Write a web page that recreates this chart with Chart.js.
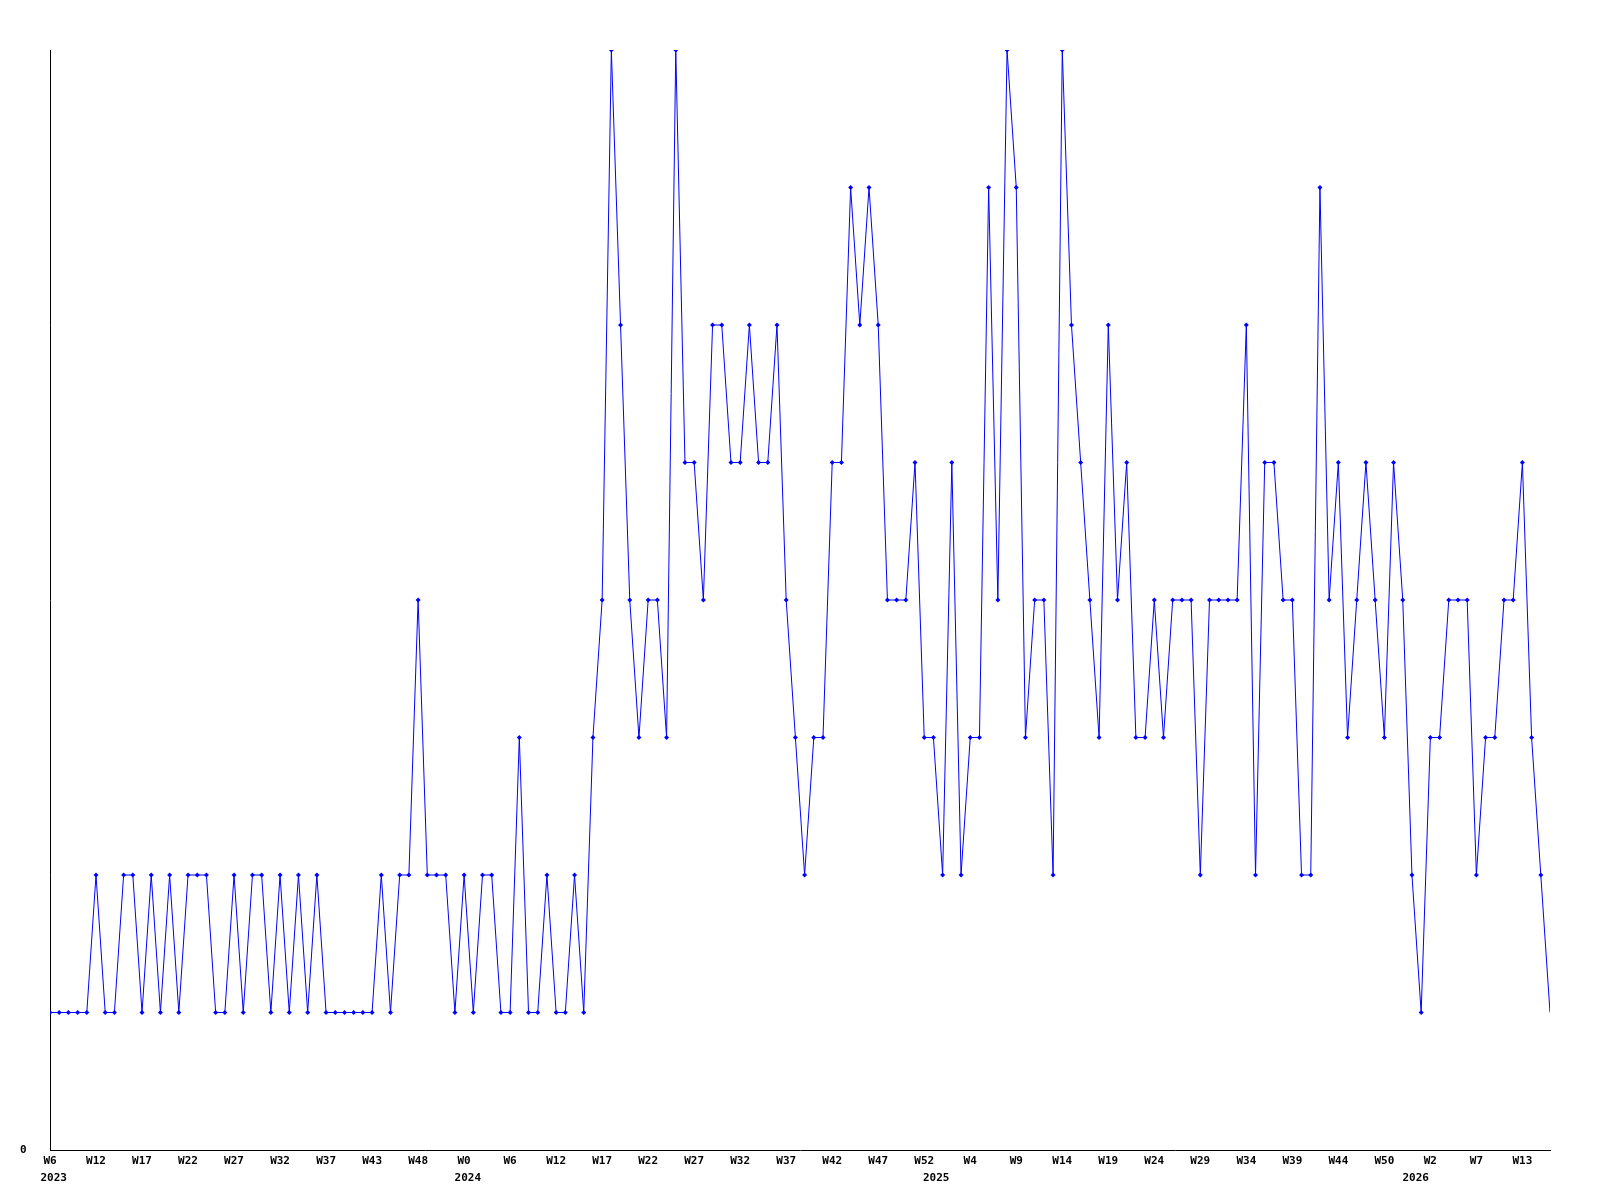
<!DOCTYPE html>
<html>
<head>
<meta charset="utf-8">
<script src="https://cdn.jsdelivr.net/npm/chart.js@4"></script>
<style>
  body { margin: 0; background: #fff; }
  #wrap { width: 1600px; height: 1200px; }
</style>
</head>
<body>
<div id="wrap"><canvas id="lineChart"></canvas></div>
<script>
// weekly values, W6 2023 .. W17 2026
const values = [
  1, 1, 1, 1, 1, 2, 1, 1, 2, 2, 1, 2, 1, 2, 1, 2, 2, 2, 1, 1,
  2, 1, 2, 2, 1, 2, 1, 2, 1, 2, 1, 1, 1, 1, 1, 1, 2, 1, 2, 2,
  4, 2, 2, 2, 1, 2, 1, 2, 2, 1, 1, 3, 1, 1, 2, 1, 1, 2, 1, 3,
  4, 8, 6, 4, 3, 4, 4, 3, 8, 5, 5, 4, 6, 6, 5, 5, 6, 5, 5, 6,
  4, 3, 2, 3, 3, 5, 5, 7, 6, 7, 6, 4, 4, 4, 5, 3, 3, 2, 5, 2,
  3, 3, 7, 4, 8, 7, 3, 4, 4, 2, 8, 6, 5, 4, 3, 6, 4, 5, 3, 3,
  4, 3, 4, 4, 4, 2, 4, 4, 4, 4, 6, 2, 5, 5, 4, 4, 2, 2, 7, 4,
  5, 3, 4, 5, 4, 3, 5, 4, 2, 1, 3, 3, 4, 4, 4, 2, 3, 3, 4, 4,
  5, 3, 2, 1
];

// tick labels (one every 5 points)
const weekLabels = [
  "W6", "W12", "W17", "W22", "W27", "W32", "W37", "W43", "W48",
  "W0", "W6", "W12", "W17", "W22", "W27", "W32", "W37", "W42", "W47", "W52",
  "W4", "W9", "W14", "W19", "W24", "W29", "W34", "W39", "W44", "W50",
  "W2", "W7", "W13"
];
const weekTicks = weekLabels.map((l, i) => i * 5);

const yearLabels = ["2023", "2024", "2025", "2026"];
const yearTicks = [0.4, 45.4, 96.3, 148.4];

const labelFont = { family: "DejaVu Sans Mono", size: 11, weight: "bold" };

const ctx = document.getElementById("lineChart").getContext("2d");
new Chart(ctx, {
    type: "line",
    data: {
        datasets: [{
            data: values.map((v, i) => ({ x: i, y: v })),
            borderColor: "#0000ff",
            backgroundColor: "#0000ff",
            borderWidth: 1,
            pointStyle: "rectRot",
            // no marker on the last (current) week
            pointRadius: c => c.dataIndex === values.length - 1 ? 0 : 2.5,
            pointBorderWidth: 0,
            tension: 0,
            fill: false
        }]
    },
    options: {
        responsive: true,
        maintainAspectRatio: false,
        animation: false,
        events: [],
        layout: { padding: { top: 50, right: 50, left: 20, bottom: 0 } },
        plugins: { legend: { display: false }, tooltip: { enabled: false } },
        scales: {
            x: {
                type: "linear",
                min: 0,
                max: values.length - 1,
                grid: { display: false, drawTicks: false },
                border: { display: true, color: "#000", width: 1 },
                afterBuildTicks: s => { s.ticks = weekTicks.map(v => ({ value: v })); },
                afterFit: s => { s.height = 22; },
                ticks: {
                    autoSkip: false,
                    maxRotation: 0,
                    padding: 5,
                    color: "#000",
                    font: labelFont,
                    callback: (v) => weekLabels[weekTicks.indexOf(v)]
                }
            },
            x2: {
                type: "linear",
                position: "bottom",
                weight: 1,
                min: 0,
                max: values.length - 1,
                grid: { display: false, drawTicks: false },
                border: { display: false },
                afterBuildTicks: s => { s.ticks = yearTicks.map(v => ({ value: v })); },
                afterFit: s => { s.height = 28; },
                ticks: {
                    autoSkip: false,
                    maxRotation: 0,
                    padding: 0,
                    color: "#000",
                    font: labelFont,
                    callback: (v) => yearLabels[yearTicks.indexOf(v)]
                }
            },
            y: {
                min: 0,
                max: 8,
                grid: { display: false, drawTicks: false },
                border: { display: true, color: "#000", width: 1 },
                afterBuildTicks: s => { s.ticks = [{ value: 0 }]; },
                afterFit: s => { s.width = 30; },
                ticks: {
                    crossAlign: "far",
                    padding: 0,
                    color: "#000",
                    font: labelFont
                }
            }
        }
    }
});
</script>
</body>
</html>
